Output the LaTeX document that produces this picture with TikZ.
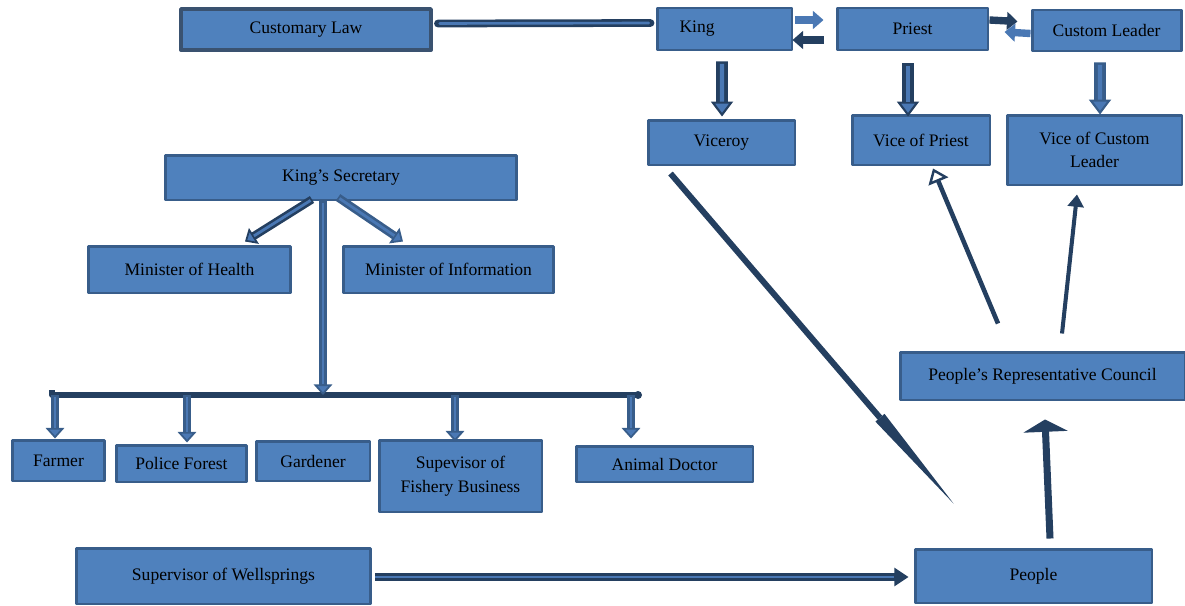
\documentclass[tikz,border=0pt]{standalone}
\usepackage{fontspec}
\setmainfont{Liberation Serif}
\usetikzlibrary{arrows.meta,calc}
\definecolor{bl}{HTML}{4F81BD}
\definecolor{bd}{HTML}{385D8A}
\definecolor{dk}{HTML}{243F60}
\definecolor{lt}{HTML}{4A78B4}
\begin{document}
\begin{tikzpicture}[x=0.02cm, y=-0.02cm, font=\fontsize{10}{13.5}\selectfont, line join=round,
box/.style={draw=bd, fill=bl, line width=1.7pt, inner sep=2pt, align=center},
sol/.style={line width=4.2pt, -{Triangle[width=10pt,length=6pt]}},
hol/.style={draw=dk, line width=6.6pt, -{Triangle[width=12.5pt,length=8.5pt,line width=1.2pt,fill=lt]},
  postaction={draw=lt, line width=2.4pt, -, shorten >=8.5pt, shorten <=1.3pt}},
hols/.style={draw=bd, line width=4.6pt, -{Triangle[width=10.5pt,length=6pt,line width=1pt,fill=lt]},
  postaction={draw=lt, line width=1.6pt, -, shorten >=6pt, shorten <=1pt}},
dbl/.style={draw=dk, line width=4.4pt, line cap=round,
  postaction={draw=lt, line width=1.5pt, shorten >=1pt, shorten <=1pt}},
dbla/.style={draw=dk, line width=4.4pt, -{Triangle[width=10pt, length=8pt]},
  postaction={draw=lt, line width=1.4pt, -, shorten >=8pt}},
bus/.style={draw=dk, line width=3pt},
thin/.style={draw=dk, line width=2.6pt}]
\useasboundingbox (0,0) rectangle (1185,605);

\node[box, draw=dk!90, line width=2.2pt, minimum width=5cm, minimum height=.82cm] (law) at (306,29.5) {Customary Law};
\node[box, minimum width=2.7cm, minimum height=.84cm, text width=1.8cm, align=left] (king) at (724.5,29) {King};
\node[box, minimum width=3.02cm, minimum height=.84cm] (priest) at (912.5,29) {Priest};
\node[box, minimum width=2.98cm, minimum height=.82cm] (cleader) at (1106.5,30.5) {Custom Leader};
\node[box, minimum width=2.94cm, minimum height=.9cm] (viceroy) at (721.5,142.5) {Viceroy};
\node[box, minimum width=2.76cm, minimum height=1cm] (vpriest) at (921,140) {Vice of Priest};
\node[box, minimum width=3.5cm, minimum height=1.4cm] (vcleader) at (1094.5,150) {Vice of Custom\\Leader};
\node[box, minimum width=7.04cm, minimum height=.9cm] (ksec) at (341,177.5) {King’s Secretary};
\node[box, minimum width=4.06cm, minimum height=.94cm] (mhealth) at (189.5,269.5) {Minister of Health};
\node[box, minimum width=4.22cm, minimum height=.94cm] (minfo) at (448.5,269.5) {Minister of Information};
\node[box, minimum width=1.86cm, minimum height=.82cm] (farmer) at (58.5,460.5) {Farmer};
\node[box, minimum width=2.62cm, minimum height=.74cm] (police) at (181.5,463.5) {Police Forest};
\node[box, minimum width=2.28cm, minimum height=.8cm] (gardener) at (313,461) {Gardener};
\node[box, minimum width=3.26cm, minimum height=1.44cm] (fishery) at (460.5,476) {Supevisor of\\Fishery Business};
\node[box, minimum width=3.54cm, minimum height=.72cm] (animal) at (664.5,464) {Animal Doctor};
\node[box, minimum width=5.9cm, minimum height=1.12cm] (wells) at (223.5,576) {Supervisor of Wellsprings};
\node[box, minimum width=4.74cm, minimum height=1.08cm] (people) at (1033.5,576) {People};
\node[box, minimum width=5.7cm, minimum height=.96cm] (prc) at (1042.5,376) {People’s Representative Council};

\draw[dbl] ($(law.east)+(5,-6)$) -- ($(king.west)+(-5,-6)$);
\draw[sol, lt] ($(king.east)+(2,-9)$) -- ($(priest.west)+(-12,-9)$);
\draw[sol, dk] ($(priest.west)+(-12,11)$) -- ($(king.east)+(-1,11)$);
\draw[sol, dk] ($(priest.east)+(0,-9)$) -- ($(cleader.west)+(-13,-9)$);
\draw[sol, lt] (cleader.west) ++(0,3) -- ($(priest.east)+(15,3)$);

\draw[hol] ($(king.south)+(-2.5,10)$) -- ($(viceroy.north)+(0.5,-2)$);
\draw[hol] ($(priest.south)+(-4.5,12)$) -- ($(vpriest.north)+(-13,3)$);
\draw[hol, draw=bd] ($(cleader.south)+(-6.5,10)$) -- ($(vcleader.north)+(5.5,1)$);

\draw[hols, draw=dk] ($(ksec.south)+(-29,-2)$) -- ($(mhealth.north)+(55.5,-3)$);
\draw[hols] ($(ksec.south)+(-3,-4)$) -- ($(minfo.north)+(-45.5,-3)$);

\coordinate (busL) at (52,395);
\coordinate (busR) at (638,395);
\coordinate (trunk) at ($(ksec.south)+(-18,0)$);
\draw[bus] (busL) ++(0,-5) -- (busL) -- (busR);
\fill[dk] (busR) circle (4);
\draw[hols] (trunk) -- (trunk |- busL);
\foreach \t/\dx/\dy in {farmer/-3.5/0, police/5.5/-1, fishery/-5.5/3, animal/-33.5/-6}{
  \coordinate (top) at ($(\t.north)+(\dx,\dy)$);
  \draw[hols] (top |- busL) -- (top);
}

\coordinate (vstart) at ($(viceroy.south)+(-51,7)$);
\coordinate (vtip) at ($(people.north west)+(40,-44)$);
\coordinate (vmid) at ($(vstart)!0.74!(vtip)$);
\draw[dk, line width=3.4pt] (vstart) -- (vmid);
\fill[dk] ($(vmid)!3.4pt!90:(vtip)$) -- (vtip) -- ($(vmid)!3.4pt!-90:(vtip)$) -- cycle;

\draw[thin, -{Triangle[open, width=12pt, length=8pt, line width=1.4pt]}] ($(prc.north)+(-44.5,-27)$) -- ($(vpriest.south)+(12,2)$);
\draw[thin, line width=2.3pt, -{Triangle[width=9pt, length=7pt]}] ($(prc.north)+(19.5,-17)$) -- ($(vcleader.south)+(-17.5,8)$);
\draw[thin, line width=4pt, -{Triangle[width=25pt, length=7pt]}] ($(people.north)+(16.5,-9)$) -- ($(prc.south)+(2.5,18)$);
\draw[dbla] ($(wells.east)+(3,1)$) -- ($(people.west)+(-5,1)$);
\end{tikzpicture}
\end{document}
